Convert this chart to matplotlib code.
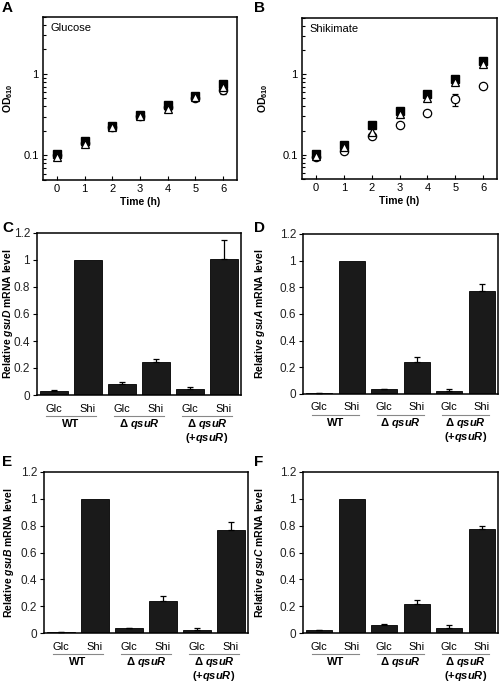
import numpy as np
import matplotlib
matplotlib.use("Agg")
import matplotlib.pyplot as plt
from matplotlib.ticker import FixedLocator, LogLocator, NullFormatter

plt.rcParams['font.family'] = ['Liberation Sans', 'DejaVu Sans']
plt.rcParams['mathtext.fontset'] = 'custom'
plt.rcParams['mathtext.rm'] = 'Liberation Sans:bold'
plt.rcParams['mathtext.bf'] = 'Liberation Sans:bold'
plt.rcParams['mathtext.it'] = 'Liberation Sans:italic:bold'

# growth curves (OD610)
time_h = [0, 1, 2, 3, 4, 5, 6]
glc_square = [0.105, 0.149, 0.232, 0.312, 0.418, 0.535, 0.745]
glc_triangle = [0.097, 0.139, 0.224, 0.303, 0.372, 0.52, 0.70]
glc_circle = [0.10, 0.142, 0.226, 0.305, 0.39, 0.50, 0.63]
glc_circle_err = [0.004, 0.005, 0.008, 0.01, 0.015, 0.02, 0.06]
shi_square = [0.102, 0.134, 0.232, 0.346, 0.561, 0.875, 1.47]
shi_triangle = [0.097, 0.125, 0.19, 0.324, 0.51, 0.80, 1.35]
shi_circle = [0.095, 0.112, 0.172, 0.237, 0.33, 0.487, 0.72]
shi_circle_err = [0.003, 0.004, 0.008, 0.01, 0.02, 0.08, 0.03]

# qRT-PCR bars
conditions = ["Glc", "Shi", "Glc", "Shi", "Glc", "Shi"]
groups = ["WT", "Δ $\\mathit{qsuR}$", "Δ $\\mathit{qsuR}$"]
group_sub = ["", "", "(+$\\mathit{qsuR}$)"]
genes = ["gsuD", "gsuA", "gsuB", "gsuC"]
gsuD = [0.03, 1.0, 0.08, 0.245, 0.045, 1.01]
gsuD_err = [0.005, 0.0, 0.015, 0.018, 0.012, 0.14]
gsuA = [0.005, 1.0, 0.035, 0.24, 0.025, 0.77]
gsuA_err = [0.002, 0.0, 0.003, 0.035, 0.015, 0.055]
gsuB = [0.005, 1.0, 0.035, 0.24, 0.025, 0.77]
gsuB_err = [0.002, 0.0, 0.003, 0.035, 0.015, 0.055]
gsuC = [0.02, 1.0, 0.06, 0.215, 0.04, 0.775]
gsuC_err = [0.004, 0.0, 0.01, 0.03, 0.02, 0.02]

W, H = 500, 683
fig = plt.figure(figsize=(W / 100, H / 100), dpi=100)


def px_axes(left, top, right, bottom):
    return fig.add_axes([left / W, 1 - bottom / H, (right - left) / W, (bottom - top) / H])


def growth_panel(ax, sq, tri, circ, circ_err, title, ylab_x):
    ax.errorbar(time_h, circ, yerr=circ_err, fmt='o', ms=6, mfc='white', mec='black',
                ecolor='black', elinewidth=0.8, capsize=2, mew=0.9, zorder=2)
    ax.plot(time_h, sq, 's', ms=6, color='black', zorder=3)
    ax.plot(time_h, tri, '^', ms=5.5, mfc='white', mec='black', mew=0.9, zorder=4)
    ax.set_yscale('log')
    ax.set_ylim(0.05, 5)
    ax.set_xlim(-0.5, 6.5)
    ax.set_xticks(time_h)
    ax.yaxis.set_major_locator(FixedLocator([0.1, 1]))
    ax.set_yticklabels(["0.1", "1"])
    ax.yaxis.set_minor_locator(LogLocator(base=10, subs=np.arange(2, 10)))
    ax.yaxis.set_minor_formatter(NullFormatter())
    ax.tick_params(which='both', direction='in', labelsize=8, width=0.8, pad=3)
    ax.tick_params(which='major', length=3)
    ax.tick_params(which='minor', length=2)
    for s in ax.spines.values():
        s.set_linewidth(1.1)
    ax.set_xlabel("Time (h)", fontsize=7.5, fontweight='bold', labelpad=2)
    ax.set_ylabel("OD$_{610}$", fontsize=7.5, fontweight='bold')
    ax.yaxis.set_label_coords(ylab_x, 0.5)
    ax.text(0.04, 0.93, title, transform=ax.transAxes, fontsize=8, va='center', ha='left')


def bar_panel(ax, vals, errs, gene, ylab_x, axis_h):
    x = np.arange(len(vals))
    ax.bar(x, vals, width=0.8, color='#1a1a1a', edgecolor='black', linewidth=0.6, zorder=2)
    errs = np.array(errs)
    vals = np.array(vals)
    keep = errs > 0
    ax.errorbar(x[keep], vals[keep], yerr=[np.zeros(keep.sum()), errs[keep]], fmt='none',
                ecolor='black', elinewidth=0.9, capsize=2.5, capthick=0.9, zorder=3)
    ax.set_xlim(-0.5, len(vals) - 0.5)
    ax.set_ylim(0, 1.2)
    ax.set_yticks([0, 0.2, 0.4, 0.6, 0.8, 1.0, 1.2])
    ax.set_yticklabels(["0", "0.2", "0.4", "0.6", "0.8", "1", "1.2"])
    ax.set_xticks([])
    ax.tick_params(axis='y', direction='out', length=3, width=0.8, labelsize=8.5,
                   labelcolor='#222222', pad=2)
    for s in ax.spines.values():
        s.set_linewidth(1.1)
    ax.set_ylabel("Relative $\\mathit{%s}$ mRNA level" % gene, fontsize=7.5, fontweight='bold')
    ax.yaxis.set_label_coords(ylab_x, 0.5)
    tr = ax.get_xaxis_transform()
    for xi, c in zip(x, conditions):
        ax.text(xi, -13.5 / axis_h, c, transform=tr, ha='center', va='center', fontsize=8)
    for g, name in enumerate(groups):
        x0 = 2 * g
        ax.plot([x0 - 0.23, x0 + 1.23], [-21 / axis_h] * 2, transform=tr, color='#888888',
                lw=0.8, clip_on=False)
        ax.text(x0 + 0.5, -29 / axis_h, name, transform=tr, ha='center', va='center',
                fontsize=8, fontweight='bold')
        if group_sub[g]:
            ax.text(x0 + 0.5, -43 / axis_h, group_sub[g], transform=tr, ha='center',
                    va='center', fontsize=8, fontweight='bold')


axA = px_axes(43, 17, 237, 180)
growth_panel(axA, glc_square, glc_triangle, glc_circle, glc_circle_err, "Glucose", -0.144)
axB = px_axes(302, 18, 497, 179)
growth_panel(axB, shi_square, shi_triangle, shi_circle, shi_circle_err, "Shikimate", -0.164)

axC = px_axes(37, 233, 241, 395)
bar_panel(axC, gsuD, gsuD_err, genes[0], -0.108, 162)
axD = px_axes(303, 234, 498, 394)
bar_panel(axD, gsuA, gsuA_err, genes[1], -0.185, 160)
axE = px_axes(44, 472, 248, 633)
bar_panel(axE, gsuB, gsuB_err, genes[2], -0.137, 161)
axF = px_axes(303, 472, 498, 633)
bar_panel(axF, gsuC, gsuC_err, genes[3], -0.185, 161)

for letter, (lx, ly) in zip("ABCDEF", [(2, 8), (254, 8), (2, 228), (254, 228), (2, 462), (254, 462)]):
    fig.text(lx / W, 1 - ly / H, letter, fontsize=11, fontweight='bold', ha='left', va='center')

fig.savefig("out.png", dpi=100)
